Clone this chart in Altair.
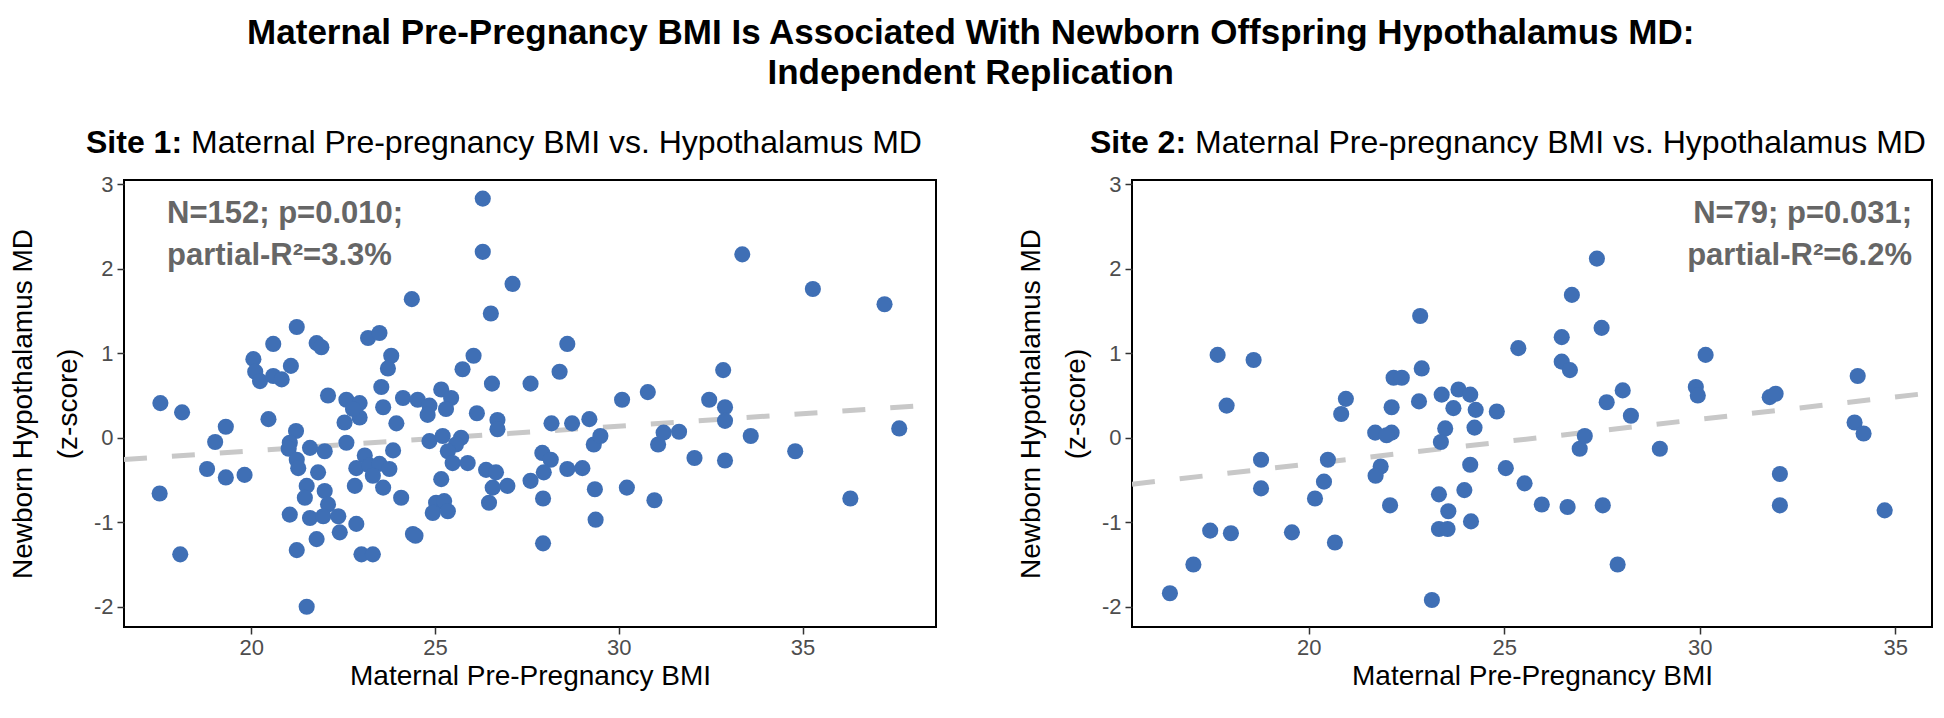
import altair as alt
import pandas as pd

FONT = "Liberation Sans"
BLUE = "#3F6FB5"

# ---------------- Site 1 ----------------
s1_bmi = [17.53, 18.12, 17.51, 18.07, 19.02, 19.31, 18.80, 19.31, 19.82, 20.06,
          20.11, 20.24, 20.60, 20.60, 20.83, 21.08, 21.24, 20.47, 21.78, 21.91,
          22.09, 21.22, 21.05, 21.02, 21.24, 21.28, 21.60, 22.00, 21.82, 21.51,
          21.46, 22.00, 22.09, 21.05, 21.60, 21.96, 22.37, 22.41, 21.78, 21.24,
          22.86, 22.59, 22.54, 22.95, 22.59, 22.95, 22.77, 23.18, 23.49, 23.81,
          23.72, 23.54, 23.59, 23.95, 23.86, 24.13, 24.53, 23.09, 22.86, 23.22,
          23.49, 23.76, 23.31, 23.59, 22.82, 24.08, 24.40, 23.00, 23.31, 24.37,
          26.52, 28.60, 28.39, 26.05, 25.75, 26.55, 27.60, 25.17, 25.44, 24.85,
          25.30, 24.80, 26.14, 26.70, 26.70, 24.85, 25.21, 25.71, 25.57, 25.35,
          25.48, 25.89, 25.17, 25.03, 25.25, 24.94, 25.35, 24.47, 26.39, 26.66,
          26.97, 26.57, 26.47, 27.60, 27.92, 28.15, 27.96, 27.94, 27.94, 28.17,
          28.73, 29.20, 28.60, 29.01, 29.32, 29.50, 29.35, 29.37, 30.09, 30.79,
          30.22, 30.97, 31.07, 31.22, 31.64, 32.06, 32.46, 32.89, 32.89, 32.84,
          32.89, 33.59, 34.80, 26.30, 26.30, 27.11, 33.36, 35.28, 37.23, 37.63,
          21.51, 36.30]
s1_md = [0.41, 0.30, -0.66, -1.38, -0.05, 0.13, -0.37, -0.47, -0.44, 0.93,
         0.78, 0.67, 1.11, 0.73, 0.69, 0.85, 1.31, 0.22, 1.12, 1.07,
         0.50, 0.08, -0.06, -0.13, -0.26, -0.36, -0.12, -0.16, -0.41, -0.57,
         -0.71, -0.63, -0.79, -0.91, -0.95, -0.93, -0.93, -1.12, -1.20, -1.33,
         -1.02, -0.06, 0.18, 0.24, 0.45, 0.41, 0.34, 1.18, 1.24, 0.97,
         0.82, 0.60, 0.36, 0.17, -0.15, 0.47, 0.45, -0.21, -0.36, -0.33,
         -0.31, -0.37, -0.45, -0.59, -0.57, -0.71, -1.14, -1.38, -1.38, 1.64,
         1.47, 1.11, 0.78, 0.97, 0.81, 0.64, 0.64, 0.57, 0.47, 0.38,
         0.34, 0.27, 0.29, 0.21, 0.10, -0.04, 0.02, 0.00, -0.08, -0.16,
         -0.30, -0.30, -0.49, -0.77, -0.75, -0.89, -0.87, -1.16, -0.38, -0.41,
         -0.57, -0.59, -0.77, -0.51, -0.18, -0.26, -0.41, -0.72, -1.25, 0.17,
         0.17, 0.22, -0.37, -0.36, -0.08, 0.02, -0.61, -0.97, 0.45, 0.54,
         -0.59, -0.74, -0.08, 0.06, 0.07, -0.24, 0.45, 0.36, 0.20, 0.80,
         -0.27, 0.02, -0.16, 2.83, 2.20, 1.82, 2.17, 1.76, 1.58, 0.11,
         -2.00, -0.72]
s1_fit_bmi = [16.54, 38.63]
s1_fit_md = [-0.257, 0.390]

# ---------------- Site 2 ----------------
s2_bmi = [17.67, 17.90, 17.48, 18.01, 18.59, 22.85, 22.89, 22.17, 22.38, 25.36,
          26.47, 26.47, 26.68, 20.95, 20.83, 22.12, 22.82, 23.40, 23.83, 24.13,
          23.70, 24.27, 24.81, 21.70, 22.12, 21.99, 23.49, 24.24, 23.38, 18.78,
          20.49, 21.84, 21.71, 24.13, 25.04, 25.52, 25.96, 26.62, 18.78, 20.39,
          20.16, 22.08, 23.33, 23.98, 23.57, 23.33, 23.55, 24.15, 19.57, 20.67,
          26.73, 17.05, 16.45, 23.15, 27.90, 27.37, 27.49, 27.62, 28.03, 28.24,
          27.52, 28.98, 29.90, 29.95, 30.15, 31.79, 31.94, 32.05, 32.05, 33.96,
          34.04, 34.19, 34.73, 26.93, 27.06]
s2_md = [0.98, 0.38, -1.10, -1.13, 0.92, 1.44, 0.82, 0.71, 0.71, 1.06,
         1.19, 0.90, 0.80, 0.46, 0.28, 0.36, 0.43, 0.51, 0.57, 0.51,
         0.35, 0.33, 0.31, 0.06, 0.06, 0.03, 0.11, 0.12, -0.05, -0.26,
         -0.26, -0.34, -0.45, -0.32, -0.36, -0.54, -0.79, -0.82, -0.60, -0.52,
         -0.72, -0.80, -0.67, -0.62, -0.87, -1.08, -1.08, -0.99, -1.12, -1.24,
         1.69, -1.50, -1.84, -1.92, -1.50, 2.12, 1.30, 0.42, 0.56, 0.26,
         -0.80, -0.13, 0.60, 0.50, 0.98, 0.48, 0.52, -0.43, -0.80, 0.18,
         0.73, 0.05, -0.86, -0.13, 0.02]
s2_fit_bmi = [15.48, 35.94]
s2_fit_md = [-0.55, 0.532]

X_TICKS = [20, 25, 30, 35]
Y_TICKS = [-2, -1, 0, 1, 2, 3]
Y_DOMAIN = [-2.24, 3.05]

TITLE_LINES = ["Maternal Pre-Pregnancy BMI Is Associated With Newborn Offspring Hypothalamus MD:",
               "Independent Replication"]
SUB_BOLD = ["Site 1:", "Site 2:"]
SUB_REST = "Maternal Pre-pregnancy BMI vs. Hypothalamus MD"
ANN1 = ["N=152; p=0.010;", "partial-R²=3.3%"]
ANN2 = ["N=79; p=0.031;", "partial-R²=6.2%"]
X_TITLE = "Maternal Pre-Pregnancy BMI"
Y_TITLE = ["Newborn Hypothalamus MD", "(z-score)"]

PH = 447


def text_layer(txt, x, y, size, weight="normal", color="black", align="left"):
    return alt.Chart(pd.DataFrame({"t": [txt]})).mark_text(
        align=align, baseline="middle", font=FONT, fontSize=size,
        fontWeight=weight, color=color
    ).encode(text="t:N", x=alt.value(x), y=alt.value(y))


def panel(bmi, md, fbmi, fmd, xdom, width, idx, ann, ann_right):
    df = pd.DataFrame({"bmi": bmi, "md": md})
    fdf = pd.DataFrame({"bmi": fbmi, "md": fmd})
    xenc = alt.X("bmi:Q",
                 scale=alt.Scale(domain=xdom, nice=False, zero=False),
                 axis=alt.Axis(values=X_TICKS, title=X_TITLE, grid=False, domain=False,
                               tickColor="#333333", tickWidth=1.5, tickSize=7,
                               labelColor="#4D4D4D", labelFont=FONT, labelFontSize=22,
                               labelPadding=3, titleFont=FONT, titleFontSize=28,
                               titleFontWeight="normal", titleColor="black",
                               titlePadding=4, labelExpr="'' + datum.value"))
    yenc = alt.Y("md:Q",
                 scale=alt.Scale(domain=Y_DOMAIN, nice=False, zero=False),
                 axis=alt.Axis(values=Y_TICKS, title=Y_TITLE, grid=False, domain=False,
                               tickColor="#333333", tickWidth=1.5, tickSize=7,
                               labelColor="#4D4D4D", labelFont=FONT, labelFontSize=22,
                               labelPadding=4, titleFont=FONT, titleFontSize=28,
                               titleFontWeight="normal", titleColor="black",
                               titlePadding=11, titleLineHeight=45,
                               labelExpr="'' + datum.value"))
    line = alt.Chart(fdf).mark_line(color="#C8C8C8", strokeWidth=5,
                                    strokeDash=[23, 25], clip=True).encode(x=xenc, y=yenc)
    pts = alt.Chart(df).mark_circle(size=260, color=BLUE, opacity=1).encode(x=xenc, y=yenc)
    sub_x = -38 if idx == 0 else -42
    layers = [line, pts,
              text_layer(SUB_BOLD[idx], sub_x, -37, 32, "bold"),
              text_layer(SUB_REST, sub_x + 105, -37, 32)]
    if ann_right:
        layers += [text_layer(ann[0], width - 20, 34, 31, "bold", "#666666", "right"),
                   text_layer(ann[1], width - 20, 76, 31, "bold", "#666666", "right")]
    else:
        layers += [text_layer(ann[0], 43, 34, 31, "bold", "#666666"),
                   text_layer(ann[1], 43, 76, 31, "bold", "#666666")]
    return alt.layer(*layers).properties(width=width, height=PH)


p1 = panel(s1_bmi, s1_md, s1_fit_bmi, s1_fit_md, [16.54, 38.63], 812, 0, ANN1, False)
p2 = panel(s2_bmi, s2_md, s2_fit_bmi, s2_fit_md, [15.48, 35.94], 800, 1, ANN2, True)

chart = alt.hconcat(p1, p2, spacing=196, bounds="flush").properties(
    title=alt.TitleParams(text=TITLE_LINES, font=FONT, fontSize=35, fontWeight="bold",
                          anchor="middle", lineHeight=40, offset=35, color="black"),
    padding={"left": 0, "top": 8, "right": 0, "bottom": 0},
    background="white",
).configure_view(stroke="black", strokeWidth=2)

chart.save("out.html", embed_options={"renderer": "svg", "actions": False})
